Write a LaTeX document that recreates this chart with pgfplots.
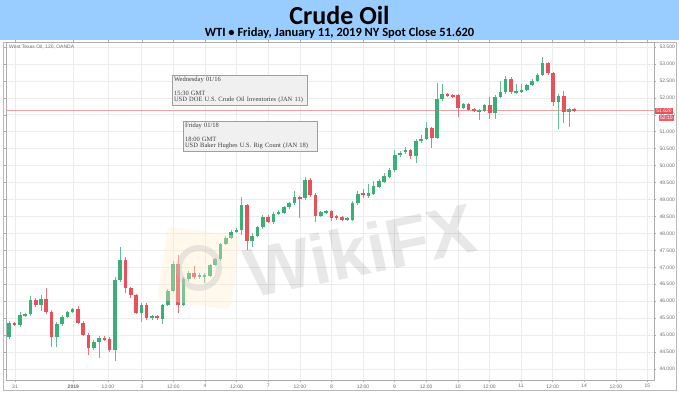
\documentclass[border=0pt]{standalone}
\usepackage{pgfplots}
\pgfplotsset{compat=1.18}
\usepackage{pgfplotstable}
\usepackage{fontspec}
\setmainfont{Liberation Sans}
\newfontfamily\titlefont{Carlito}
\newfontfamily\boxfont{Liberation Serif}
\definecolor{cg}{RGB}{60,175,120}
\definecolor{cr}{RGB}{232,80,90}
\definecolor{banner}{RGB}{153,204,255}
\definecolor{gridc}{RGB}{236,236,236}

\pgfplotstableread{
i o h l c
1 44.95 45.42 44.90 45.35
3 45.30 45.69 45.25 45.59
4 45.57 45.66 45.53 45.61
5 45.61 46.15 45.55 46.04
7 45.89 46.18 45.70 46.06
10 44.95 45.38 44.66 45.33
11 45.33 45.58 45.28 45.54
12 45.54 45.72 45.50 45.69
13 45.69 45.80 45.65 45.76
17 44.61 44.85 44.55 44.81
18 44.81 44.96 44.32 44.91
21 44.56 46.70 44.25 46.63
22 46.63 47.59 46.58 47.22
26 45.66 45.95 45.38 45.89
28 45.50 45.60 45.45 45.55
30 45.47 45.92 45.32 45.89
31 45.89 46.36 45.85 46.31
32 46.31 47.20 46.28 47.09
34 45.89 46.70 45.85 46.65
35 46.65 46.90 46.60 46.84
37 46.70 46.82 46.66 46.76
38 46.72 46.82 46.55 46.77
39 46.74 47.10 46.70 47.07
40 47.07 47.28 47.03 47.24
41 47.24 47.73 47.20 47.69
42 47.69 47.92 47.65 47.87
43 47.87 48.10 47.83 48.05
44 48.05 48.16 48.00 48.10
45 48.10 49.08 47.95 48.84
47 47.79 48.00 47.60 47.92
48 47.92 48.22 47.88 48.18
49 48.18 48.55 48.14 48.49
51 48.34 48.62 48.28 48.57
52 48.57 48.70 48.53 48.64
53 48.61 48.82 48.57 48.77
54 48.77 48.93 48.73 48.89
55 48.89 49.25 48.85 49.06
57 49.05 49.65 49.00 49.58
60 48.52 48.66 48.48 48.62
61 48.62 48.70 48.58 48.66
65 48.40 48.49 48.36 48.45
66 48.40 48.95 48.36 48.89
67 48.89 49.25 48.85 49.16
69 49.10 49.45 49.05 49.18
70 49.16 49.55 49.12 49.40
71 49.38 49.60 49.34 49.55
72 49.53 49.78 49.48 49.69
73 49.67 49.92 49.62 49.87
74 49.87 50.45 49.82 50.31
75 50.31 50.43 50.25 50.38
76 50.40 50.55 50.35 50.46
78 50.28 50.78 50.08 50.73
79 50.73 50.90 50.68 50.80
80 50.80 51.28 50.75 51.10
82 50.82 52.45 50.78 51.96
83 51.96 52.40 51.92 52.10
87 51.71 51.85 51.66 51.81
90 51.60 51.66 51.34 51.63
91 51.61 51.83 51.57 51.79
93 51.54 52.08 51.38 52.03
94 52.03 52.50 51.99 52.16
95 52.16 52.65 52.12 52.55
97 52.16 52.40 52.12 52.20
98 52.18 52.40 52.14 52.23
99 52.23 52.42 52.19 52.38
100 52.38 52.55 52.34 52.50
101 52.50 52.72 52.46 52.67
102 52.67 53.19 52.63 53.02
105 51.87 52.10 51.07 52.06
107 51.59 51.70 51.13 51.66
}\greentab

\pgfplotstableread{
i o h l c
2 45.35 45.38 45.27 45.30
6 46.04 46.08 45.84 45.89
8 46.06 46.38 45.63 45.69
9 45.69 45.75 44.66 44.95
14 45.76 45.85 45.33 45.37
15 45.37 45.42 44.96 45.00
16 45.00 45.05 44.41 44.61
19 44.91 44.98 44.84 44.88
20 44.88 44.95 44.50 44.56
23 47.22 47.30 46.25 46.38
24 46.38 46.42 46.10 46.18
25 46.18 46.22 45.62 45.66
27 45.89 45.95 45.45 45.50
29 45.55 45.58 45.46 45.50
33 47.09 47.36 45.65 45.89
36 46.84 47.05 46.66 46.70
46 48.84 48.88 47.51 47.79
50 48.49 48.53 48.30 48.34
56 49.06 49.10 48.45 49.02
58 49.58 49.62 49.08 49.13
59 49.13 49.18 48.35 48.52
62 48.66 48.70 48.38 48.46
63 48.49 48.53 48.41 48.45
64 48.49 48.52 48.36 48.40
68 49.19 49.30 49.05 49.14
77 50.46 50.50 50.20 50.28
81 51.10 51.15 50.51 50.82
84 52.11 52.15 52.02 52.07
85 52.07 52.10 51.99 52.03
86 52.07 52.10 51.43 51.71
88 51.81 51.85 51.60 51.64
89 51.67 51.70 51.57 51.61
92 51.79 52.03 51.38 51.54
96 52.55 52.60 52.12 52.16
103 53.02 53.06 52.68 52.72
104 52.72 52.76 51.75 51.89
106 52.06 52.20 51.25 51.59
108 51.66 51.69 51.58 51.62
}\redtab

\pgfplotsset{
  wick/.style={draw=none, no marks, forget plot,
    error bars/.cd, y dir=both, y explicit, error mark=none,
    error bar style={draw=#1, line width=0.7pt}},
  body/.style={draw=none, no marks, forget plot,
    error bars/.cd, y dir=both, y explicit, error mark=none,
    error bar style={draw=#1, line width=3.6pt}},
}

\begin{document}
\begin{tikzpicture}[x=1pt,y=1pt]
\useasboundingbox (0pt,0pt) rectangle (679pt,393pt);
% banner
\fill[banner] (0pt,353pt) rectangle (679pt,393pt);
\node[font=\titlefont\bfseries\fontsize{26}{26}\selectfont, inner sep=0pt] at (339.5pt,378pt) {Crude Oil};
\node[font=\titlefont\bfseries\fontsize{12.5}{12.5}\selectfont, inner sep=0pt] at (339.5pt,360pt) {WTI • Friday, January 11, 2019 NY Spot Close 51.620};
% outer frame
\draw[gray!55, line width=0.6pt] (3pt,3pt) rectangle (676pt,351pt);

\begin{axis}[
  at={(6pt,13pt)}, anchor=south west,
  scale only axis, width=648pt, height=338pt,
  xmin=0.375, xmax=123.1, ymin=43.676, ymax=53.646,
  axis line style={gray!65, line width=0.5pt},
  clip=false,
  ytick={44,44.5,45,45.5,46,46.5,47,47.5,48,48.5,49,49.5,50,50.5,51,51.5,52,52.5,53,53.5},
  yticklabel pos=right,
  /pgf/number format/assume math mode=true,
  yticklabel style={font=\fontsize{5}{5}\selectfont, text=gray!85!black,
    /pgf/number format/.cd, fixed, fixed zerofill, precision=3, 1000 sep={}},
  xtick={2.08,13.12,19.69,26.08,32.06,38.06,44.05,50.03,56.02,62.00,67.99,73.97,79.96,85.94,91.93,97.91,103.9,109.88,115.87,121.85},
  xticklabels={31,{\bfseries 2019},12:00,3,12:00,4,12:00,7,12:00,8,12:00,9,12:00,10,12:00,11,12:00,14,12:00,15},
  xticklabel style={font=\fontsize{5}{5}\selectfont, text=gray!85!black, yshift=1pt},
  tick align=outside, major tick length=2pt,
  tick style={gray!65, line width=0.4pt},
  grid=major, major grid style={gridc, line width=0.5pt},
]
% last price line
\addplot[cr!55, line width=0.4pt, forget plot, no marks] coordinates {(0.375,51.62) (123.1,51.62)};
% wicks
\addplot[wick=cg!80] table[x=i, y expr={(\thisrow{h}+\thisrow{l})/2}, y error expr={(\thisrow{h}-\thisrow{l})/2}] {\greentab};
\addplot[wick=cr!80] table[x=i, y expr={(\thisrow{h}+\thisrow{l})/2}, y error expr={(\thisrow{h}-\thisrow{l})/2}] {\redtab};
% bodies
\addplot[body=cg] table[x=i, y expr={(\thisrow{o}+\thisrow{c})/2}, y error expr={max(abs(\thisrow{c}-\thisrow{o})/2,0.03)}] {\greentab};
\addplot[body=cr] table[x=i, y expr={(\thisrow{o}+\thisrow{c})/2}, y error expr={max(abs(\thisrow{c}-\thisrow{o})/2,0.03)}] {\redtab};
\coordinate (lastp) at (axis cs:123.1,51.62);
\end{axis}

% watermark
\begin{scope}[opacity=0.35]
\fill[yellow!25!orange!20, rounded corners=6pt, rotate around={-8:(199pt,125pt)}] (162pt,88pt) rectangle (236pt,162pt);
\draw[gray!50, line width=6pt] (199pt,125pt) circle (20pt);
\end{scope}
\node[rotate=12, opacity=0.09, text=black, font=\bfseries\fontsize{70}{70}\selectfont] at (360pt,143pt) {WikiFX};

% price labels
\node[fill=cr, text=white, font=\fontsize{5}{5}\selectfont, inner sep=1.2pt, anchor=west] at ([xshift=1pt]lastp) {51.620};
\node[fill=cr!90, text=white, font=\fontsize{5}{5}\selectfont, inner sep=1.2pt, anchor=north east] at (674pt,278pt) {52:10};

% source label
\node[font=\fontsize{5}{5}\selectfont, text=gray!90!black, anchor=west, inner sep=0pt] at (9pt,346pt) {West Texas Oil, 120, OANDA};

% event boxes
\node[draw=gray!75, fill=gray!12, line width=0.6pt, anchor=north west, text width=131pt, inner sep=2pt, align=left,
  font=\boxfont\fontsize{6.5}{6.7}\selectfont, text=black!75] at (171.7pt,318pt)
  {Wednesday 01/16\\[6.7pt]15:30 GMT\\USD DOE U.S. Crude Oil Inventories (JAN 11)};
\node[draw=gray!75, fill=gray!12, line width=0.6pt, anchor=north west, text width=130pt, inner sep=2pt, align=left,
  font=\boxfont\fontsize{6.5}{6.7}\selectfont, text=black!75] at (182.7pt,272pt)
  {Friday 01/18\\[6.7pt]18:00 GMT\\USD Baker Hughes U.S. Rig Count (JAN 18)};
\end{tikzpicture}
\end{document}
